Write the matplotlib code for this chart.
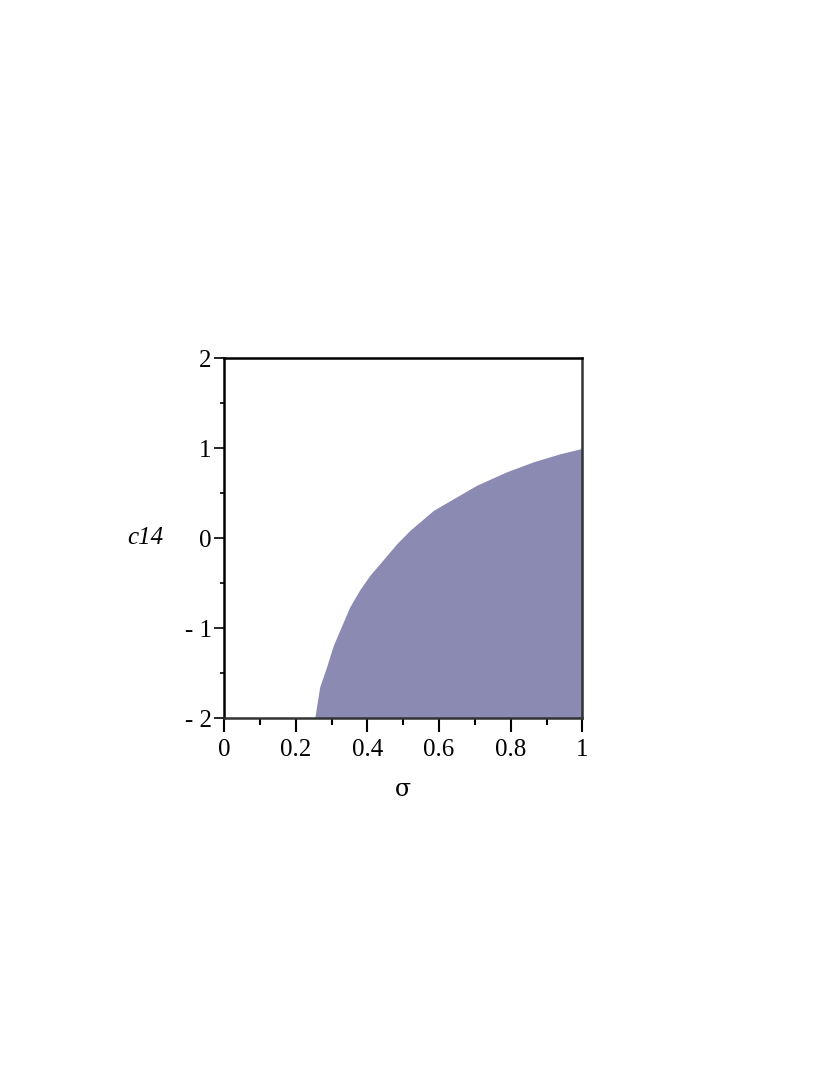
import matplotlib.pyplot as plt
import numpy as np

# boundary of the shaded region
sigma = [0.253, 0.267, 0.286, 0.304, 0.323, 0.351, 0.379, 0.407, 0.435,
         0.482, 0.519, 0.584, 0.640, 0.705, 0.789, 0.863, 0.938, 1.0]
c14 = [-2.0, -1.65, -1.43, -1.20, -1.02, -0.76, -0.57, -0.41, -0.28,
       -0.06, 0.09, 0.31, 0.44, 0.59, 0.74, 0.85, 0.94, 1.0]

x_ticks = [0, 0.2, 0.4, 0.6, 0.8, 1]
x_labels = ['0', '0.2', '0.4', '0.6', '0.8', '1']
y_ticks = [-2, -1, 0, 1, 2]
y_labels = ['- 2', '- 1', '0', '1', '2']

fill_color = '#8a8ab2'

fig = plt.figure(figsize=(8.3, 10.75), dpi=100)
ax = fig.add_axes([0.2699, 0.3318, 0.4319, 0.3349])

# shaded region lies to the right of the boundary curve
ax.fill_betweenx(c14, sigma, 1.0, color=fill_color, lw=0)

ax.set_xlim(0, 1)
ax.set_ylim(-2, 2)

ax.set_xticks(x_ticks)
ax.set_xticklabels(x_labels)
ax.set_yticks(y_ticks)
ax.set_yticklabels(y_labels)
ax.set_xticks(np.arange(0.1, 1.0, 0.2), minor=True)
ax.set_yticks([-1.5, -0.5, 0.5, 1.5], minor=True)

for lab in ax.get_xticklabels() + ax.get_yticklabels():
    lab.set_fontfamily('Liberation Serif')
    lab.set_fontsize(18)

ax.tick_params(axis='x', which='major', length=10, width=1.5, pad=5, direction='out')
ax.tick_params(axis='x', which='minor', length=5, width=1.5, direction='out')
ax.tick_params(axis='y', which='major', length=7, width=1.2, pad=2, direction='out')
ax.tick_params(axis='y', which='minor', length=3, width=1.2, direction='out')

for side in ['left', 'top']:
    ax.spines[side].set_linewidth(1.8)
    ax.spines[side].set_color('black')
for side in ['right', 'bottom']:
    ax.spines[side].set_linewidth(1.8)
    ax.spines[side].set_color('#333333')

ax.set_xlabel('σ', fontfamily='DejaVu Serif', fontsize=17, labelpad=12)
ax.set_ylabel('c14', fontfamily='Liberation Serif', fontstyle='italic',
              fontsize=18, rotation=0, labelpad=28, va='center')

fig.savefig('out.png', dpi=100)
